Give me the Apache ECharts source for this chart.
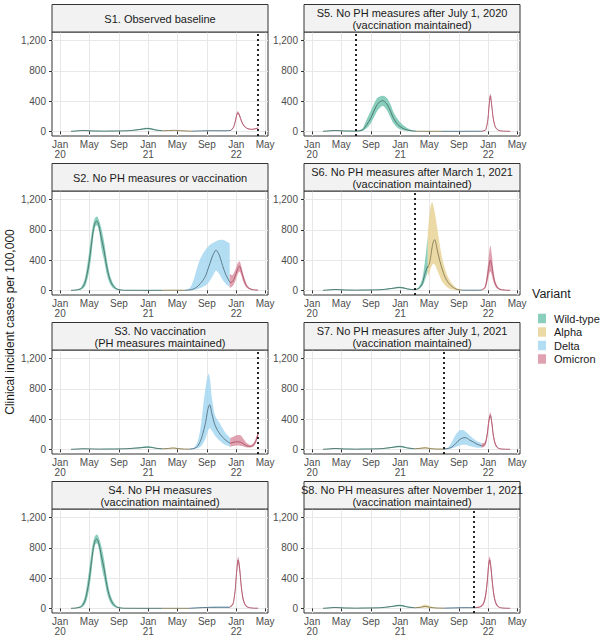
<!DOCTYPE html>
<html>
<head>
<meta charset="utf-8">
<script src="https://cdn.jsdelivr.net/npm/echarts@6.0.0/dist/echarts.min.js"></script>
<style>
html,body{margin:0;padding:0;background:#fff;}
#chart{width:600px;height:644px;}
</style>
</head>
<body>
<div id="chart"></div>
<script>
// ================= DATA =================
const variants = ['Wild-type', 'Alpha', 'Delta', 'Omicron'];
const xTickDates = ['2020-01-01','2020-05-01','2020-09-01','2021-01-01','2021-05-01','2021-09-01','2022-01-01','2022-05-01'];
const xTickLabels = ['Jan\n20','May','Sep','Jan\n21','May','Sep','Jan\n22','May'];
const yTicks = [0, 400, 800, 1200];
const panelTitles = [
  'S1. Observed baseline',
  'S2. No PH measures or vaccination',
  'S3. No vaccination\n(PH measures maintained)',
  'S4. No PH measures\n(vaccination maintained)',
  'S5. No PH measures after July 1, 2020\n(vaccination maintained)',
  'S6. No PH measures after March 1, 2021\n(vaccination maintained)',
  'S7. No PH measures after July 1, 2021\n(vaccination maintained)',
  'S8. No PH measures after November 1, 2021\n(vaccination maintained)'
];
const vlineDates = ['2022-04-02', null, '2022-04-02', null, '2020-07-01', '2021-03-01', '2021-07-01', '2021-11-01'];

// rows: [date, lower, median, upper]
const s1Wild = [['2020-02-15',0,1,2],['2020-03-10',3,6,9],['2020-04-05',8,12,16],['2020-04-25',6,9,12],['2020-05-20',3,5,7],['2020-07-01',2,3,5],['2020-08-15',3,5,7],['2020-10-01',4,7,10],['2020-11-01',10,15,20],['2020-12-01',20,27,34],['2020-12-25',28,38,48],['2021-01-10',26,35,45],['2021-02-01',12,18,24],['2021-03-01',5,8,11]];
const s1Alpha = [['2021-03-01',5,8,11],['2021-03-25',7,11,15],['2021-04-20',10,14,19],['2021-05-15',6,9,12],['2021-06-15',2,4,6],['2021-07-01',2,3,4]];
const s1Delta = [['2021-07-01',2,3,4],['2021-08-10',4,6,9],['2021-09-15',6,9,12],['2021-10-20',5,8,11],['2021-11-20',5,8,11],['2021-12-10',10,14,18]];
const s1Omicron = [['2021-12-10',10,14,18],['2021-12-20',40,50,60],['2021-12-28',110,130,150],['2022-01-03',190,215,240],['2022-01-07',225,245,265],['2022-01-12',210,230,250],['2022-01-19',150,170,190],['2022-01-27',90,105,120],['2022-02-07',50,58,66],['2022-02-20',28,34,40],['2022-03-05',22,27,32],['2022-03-20',28,33,38],['2022-04-02',40,45,50]];

const s2Wild = [['2020-02-15',0,1,2],['2020-03-05',2,4,7],['2020-03-25',8,18,32],['2020-04-10',40,80,130],['2020-04-25',170,270,390],['2020-05-08',420,560,700],['2020-05-18',710,800,890],['2020-05-27',850,905,965],['2020-06-02',860,915,975],['2020-06-10',780,850,925],['2020-06-20',560,690,820],['2020-07-01',400,530,650],['2020-07-12',220,320,420],['2020-07-25',90,150,210],['2020-08-10',25,50,80],['2020-08-28',5,12,20],['2020-09-20',1,2,4],['2020-12-01',0,1,2],['2021-03-01',0,1,2]];
const s2Alpha = [['2021-03-01',0,1,2],['2021-04-15',1,3,6],['2021-06-01',0,1,3]];
const s2Delta = [['2021-06-01',0,1,3],['2021-06-20',1,5,25],['2021-07-05',3,15,110],['2021-07-20',10,40,270],['2021-08-05',30,90,420],['2021-08-25',60,180,530],['2021-09-10',110,320,590],['2021-09-27',200,470,630],['2021-10-09',260,530,650],['2021-10-22',220,470,665],['2021-11-05',140,330,670],['2021-11-20',80,200,650],['2021-12-05',40,110,620]];
const s2Omicron = [['2021-12-05',30,100,220],['2021-12-15',50,110,200],['2021-12-28',120,190,270],['2022-01-08',220,290,360],['2022-01-15',250,320,385],['2022-01-22',200,260,320],['2022-02-01',100,150,200],['2022-02-15',30,50,75],['2022-03-01',10,18,28],['2022-03-15',4,7,11],['2022-04-02',1,3,5]];

const s3Wild = [['2020-02-15',0,1,2],['2020-03-10',2,4,7],['2020-04-05',5,8,12],['2020-05-01',4,6,9],['2020-06-15',2,4,6],['2020-08-15',3,5,7],['2020-10-01',5,8,11],['2020-11-01',10,15,20],['2020-12-01',16,22,30],['2020-12-25',22,30,40],['2021-01-10',20,28,38],['2021-02-01',10,15,20],['2021-03-01',4,7,10]];
const s3Alpha = [['2021-03-01',4,7,10],['2021-03-25',8,12,18],['2021-04-15',12,18,26],['2021-05-05',6,10,15],['2021-06-01',2,4,6],['2021-06-20',1,3,5]];
const s3Delta = [['2021-06-20',1,3,5],['2021-07-05',3,8,15],['2021-07-21',10,30,75],['2021-08-04',30,100,250],['2021-08-25',130,330,780],['2021-09-08',260,560,1000],['2021-09-13',280,590,950],['2021-09-22',250,470,680],['2021-10-05',180,320,450],['2021-10-26',110,200,340],['2021-11-15',60,130,230],['2021-12-07',35,80,150]];
const s3Omicron = [['2021-12-07',35,80,150],['2021-12-22',45,95,170],['2022-01-08',50,100,190],['2022-01-18',48,95,185],['2022-02-01',38,72,135],['2022-02-15',25,45,80],['2022-03-01',25,38,58],['2022-03-12',35,55,78],['2022-03-22',70,100,135],['2022-04-02',170,205,240]];

const s4Wild = [['2020-02-15',0,1,2],['2020-03-05',2,4,7],['2020-03-25',8,18,32],['2020-04-10',40,80,130],['2020-04-25',170,270,390],['2020-05-08',420,560,700],['2020-05-18',710,800,890],['2020-05-27',850,905,965],['2020-06-02',860,915,975],['2020-06-10',780,850,925],['2020-06-20',560,690,820],['2020-07-01',400,530,650],['2020-07-12',220,320,420],['2020-07-25',90,150,210],['2020-08-10',25,50,80],['2020-08-28',5,12,20],['2020-09-20',1,2,4],['2020-12-01',0,1,2],['2021-03-01',0,1,2]];
const s4Alpha = [['2021-03-01',0,1,2],['2021-05-01',0,1,2],['2021-06-20',0,1,2]];
const s4Delta = [['2021-06-20',0,1,2],['2021-07-15',2,5,10],['2021-08-15',5,10,18],['2021-09-15',7,13,22],['2021-10-15',8,14,24],['2021-11-15',8,14,24],['2021-12-05',8,14,22]];
const s4Omicron = [['2021-12-05',8,14,22],['2021-12-18',40,55,70],['2021-12-27',180,220,260],['2022-01-03',430,490,550],['2022-01-09',590,640,680],['2022-01-15',470,530,590],['2022-01-22',240,290,340],['2022-01-30',90,120,150],['2022-02-10',25,35,45],['2022-02-25',6,9,13],['2022-03-15',2,3,5],['2022-04-02',1,2,3]];

const s5Wild = [['2020-02-15',0,1,2],['2020-03-10',3,6,9],['2020-04-05',8,12,16],['2020-04-25',6,9,12],['2020-05-20',3,5,7],['2020-07-01',2,3,5],['2020-07-25',5,14,30],['2020-08-15',45,90,165],['2020-09-01',110,180,275],['2020-09-15',195,280,375],['2020-10-01',285,370,450],['2020-10-20',335,405,470],['2020-11-05',285,365,445],['2020-11-20',190,275,365],['2020-12-05',100,165,245],['2020-12-28',32,72,135],['2021-01-25',7,22,55],['2021-02-20',2,6,14],['2021-03-10',1,2,4]];
const s5Alpha = [['2021-03-10',1,2,4],['2021-05-01',0,1,3],['2021-06-20',0,1,2]];
const s5Delta = [['2021-06-20',0,1,2],['2021-09-01',0,1,2],['2021-12-05',1,2,4]];
const s5Omicron = [['2021-12-05',1,2,4],['2021-12-20',10,15,20],['2021-12-30',110,140,170],['2022-01-05',300,350,400],['2022-01-10',430,470,500],['2022-01-15',320,360,400],['2022-01-22',140,170,200],['2022-02-01',40,50,60],['2022-02-15',8,11,14],['2022-03-05',2,3,5],['2022-04-02',0,1,2]];

const s6Wild = [['2020-02-15',0,1,2],['2020-03-10',3,6,9],['2020-04-05',8,12,16],['2020-04-25',6,9,12],['2020-05-20',3,5,7],['2020-07-01',2,3,5],['2020-08-15',3,5,7],['2020-10-01',4,7,10],['2020-11-01',10,15,20],['2020-12-01',20,27,34],['2020-12-25',28,38,48],['2021-01-10',26,35,45],['2021-02-01',12,18,24],['2021-03-01',6,9,12],['2021-03-15',12,20,32],['2021-04-01',50,80,140],['2021-04-15',150,240,430],['2021-04-25',250,320,720]];
const s6Alpha = [['2021-04-25',180,300,760],['2021-05-02',240,360,1000],['2021-05-08',300,460,1130],['2021-05-13',330,570,1165],['2021-05-18',350,640,1120],['2021-05-24',340,670,1030],['2021-06-03',270,540,830],['2021-06-13',190,400,620],['2021-06-25',110,270,410],['2021-07-08',60,160,260],['2021-07-22',25,90,150],['2021-08-06',10,45,80],['2021-08-25',3,12,25],['2021-09-15',1,3,6]];
const s6Delta = [['2021-09-15',1,3,6],['2021-10-15',1,2,4],['2021-11-15',1,2,4],['2021-12-05',2,4,7]];
const s6Omicron = [['2021-12-05',2,4,7],['2021-12-18',20,35,55],['2021-12-28',100,170,250],['2022-01-04',200,320,470],['2022-01-10',250,400,590],['2022-01-16',200,320,470],['2022-01-23',110,180,260],['2022-02-01',45,75,110],['2022-02-12',15,25,40],['2022-02-25',5,8,14],['2022-03-15',1,3,5],['2022-04-02',0,1,2]];

const s7Wild = [['2020-02-15',0,1,2],['2020-03-10',3,6,9],['2020-04-05',8,12,16],['2020-04-25',6,9,12],['2020-05-20',3,5,7],['2020-07-01',2,3,5],['2020-08-15',3,5,7],['2020-10-01',4,7,10],['2020-11-01',10,15,20],['2020-12-01',20,27,34],['2020-12-25',28,38,48],['2021-01-10',26,35,45],['2021-02-01',12,18,24],['2021-03-01',5,8,11]];
const s7Alpha = [['2021-03-01',5,8,11],['2021-03-25',8,13,20],['2021-04-15',12,20,32],['2021-05-05',6,11,18],['2021-06-01',2,4,7],['2021-07-01',1,3,5]];
const s7Delta = [['2021-07-01',1,3,5],['2021-07-20',5,12,30],['2021-08-05',15,35,110],['2021-08-20',30,80,200],['2021-09-05',50,130,250],['2021-09-17',60,150,255],['2021-09-28',60,155,235],['2021-10-15',45,125,185],['2021-11-01',30,95,140],['2021-11-15',22,70,110],['2021-12-05',20,45,80]];
const s7Omicron = [['2021-12-05',20,45,80],['2021-12-18',40,65,95],['2021-12-28',150,200,250],['2022-01-04',330,380,430],['2022-01-10',420,450,490],['2022-01-16',300,350,400],['2022-01-23',130,170,210],['2022-02-01',40,60,80],['2022-02-12',10,15,22],['2022-02-25',3,5,8],['2022-03-15',1,2,3],['2022-04-02',0,1,2]];

const s8Wild = [['2020-02-15',0,1,2],['2020-03-10',3,6,9],['2020-04-05',8,12,16],['2020-04-25',6,9,12],['2020-05-20',3,5,7],['2020-07-01',2,3,5],['2020-08-15',3,5,7],['2020-10-01',4,7,10],['2020-11-01',10,15,20],['2020-12-01',20,27,34],['2020-12-25',28,38,48],['2021-01-10',26,35,45],['2021-02-01',12,18,24],['2021-03-01',5,8,11]];
const s8Alpha = [['2021-03-01',5,8,11],['2021-03-25',8,14,24],['2021-04-15',12,25,50],['2021-05-05',6,14,28],['2021-06-01',2,5,9],['2021-07-01',1,3,5]];
const s8Delta = [['2021-07-01',1,3,5],['2021-08-15',3,6,10],['2021-09-15',5,9,14],['2021-10-15',5,9,14],['2021-11-10',6,10,15]];
const s8Omicron = [['2021-11-10',6,10,15],['2021-11-25',10,16,24],['2021-12-10',35,50,70],['2021-12-20',110,150,200],['2021-12-28',290,350,420],['2022-01-03',510,580,650],['2022-01-07',590,640,685],['2022-01-12',480,550,610],['2022-01-18',290,350,410],['2022-01-25',130,170,210],['2022-02-03',40,60,80],['2022-02-15',10,15,22],['2022-03-01',3,5,8],['2022-03-20',1,2,3],['2022-04-02',0,1,2]];

const panelData = [
  [s1Wild, s1Alpha, s1Delta, s1Omicron],
  [s2Wild, s2Alpha, s2Delta, s2Omicron],
  [s3Wild, s3Alpha, s3Delta, s3Omicron],
  [s4Wild, s4Alpha, s4Delta, s4Omicron],
  [s5Wild, s5Alpha, s5Delta, s5Omicron],
  [s6Wild, s6Alpha, s6Delta, s6Omicron],
  [s7Wild, s7Alpha, s7Delta, s7Omicron],
  [s8Wild, s8Alpha, s8Delta, s8Omicron]
];

// ================= STYLE / LAYOUT =================
const FONT = '"Liberation Sans", Arial, Helvetica, sans-serif';
const bandFill = ['rgba(118,198,178,0.85)', 'rgba(232,212,150,0.85)', 'rgba(160,212,240,0.8)', 'rgba(218,146,162,0.85)'];
const lineCol = ['#46716a', '#857a55', '#52707f', '#ad536a'];
const colX = [52, 304];
const panelW = 216;
const rowTop = [32, 191, 350, 509];
const panelH = 104;
const stripH = 27.5;
const yMin = -61, yMax = 1312;

function ts(s) { const p = s.split('-').map(Number); return new Date(p[0], p[1] - 1, p[2]).getTime(); }
const xTickTs = xTickDates.map(ts);
const xMin = ts('2019-11-28'), xMax = ts('2022-05-13');

// monotone cubic path through pixel points (rendering only; no extra data points)
function monoPath(pts, first) {
  const n = pts.length;
  let d = (first ? 'M' : 'L') + pts[0][0].toFixed(2) + ',' + pts[0][1].toFixed(2);
  if (n < 2) return d;
  const dx = [], ms = [];
  for (let i = 0; i < n - 1; i++) {
    dx.push(pts[i + 1][0] - pts[i][0]);
    ms.push((pts[i + 1][1] - pts[i][1]) / dx[i]);
  }
  const t = [ms[0]];
  for (let i = 1; i < n - 1; i++) {
    if (ms[i - 1] * ms[i] <= 0) t.push(0);
    else {
      const w1 = 2 * dx[i] + dx[i - 1], w2 = dx[i] + 2 * dx[i - 1];
      t.push((w1 + w2) / (w1 / ms[i - 1] + w2 / ms[i]));
    }
  }
  t.push(ms[n - 2]);
  for (let i = 0; i < n - 1; i++) {
    const h = dx[i] / 3;
    d += 'C' + (pts[i][0] + h).toFixed(2) + ',' + (pts[i][1] + t[i] * h).toFixed(2) + ' ' +
      (pts[i + 1][0] - h).toFixed(2) + ',' + (pts[i + 1][1] - t[i + 1] * h).toFixed(2) + ' ' +
      pts[i + 1][0].toFixed(2) + ',' + pts[i + 1][1].toFixed(2);
  }
  return d;
}

const grids = [], xAxes = [], yAxes = [], series = [], graphics = [];

panelData.forEach(function (vs, p) {
  const col = p < 4 ? 0 : 1, row = p % 4;
  const left = colX[col], top = rowTop[row];
  grids.push({ left: left, top: top, width: panelW, height: panelH, show: true,
    borderColor: '#333', borderWidth: 1, backgroundColor: 'transparent', containLabel: false, outerBoundsMode: 'none' });
  xAxes.push({
    type: 'value', gridIndex: p, min: xMin, max: xMax, scale: true,
    axisLine: { show: false },
    axisTick: { show: true, customValues: xTickTs, length: 3, lineStyle: { color: '#333', width: 1 } },
    axisLabel: { customValues: xTickTs, fontSize: 10, color: '#4d4d4d', fontFamily: FONT, margin: 4, lineHeight: 9.5,
      formatter: function (v) { const i = xTickTs.indexOf(Number(v)); return i >= 0 ? xTickLabels[i] : ''; } },
    splitLine: { show: true, lineStyle: { color: '#e8e8e8', width: 1 } }
  });
  yAxes.push({
    type: 'value', gridIndex: p, min: yMin, max: yMax,
    axisLine: { show: false },
    axisTick: { show: true, customValues: yTicks, length: 3, lineStyle: { color: '#333', width: 1 } },
    axisLabel: { customValues: yTicks, fontSize: 10, color: '#4d4d4d', fontFamily: FONT, margin: 6,
      formatter: function (v) { return Number(v).toLocaleString('en-US'); } },
    splitLine: { show: true, lineStyle: { color: '#e8e8e8', width: 1 } }
  });
  // ribbons
  vs.forEach(function (rows, v) {
    series.push({
      type: 'custom', name: variants[v], xAxisIndex: p, yAxisIndex: p, silent: true, z: 2,
      itemStyle: { color: bandFill[v] },
      encode: { x: 0, y: [1, 2] },
      data: rows.map(function (r) { return [ts(r[0]), r[1], r[3]]; }),
      renderItem: function (params, api) {
        if (params.dataIndex !== 0) return null;
        const up = rows.map(function (r) { return api.coord([ts(r[0]), r[3]]); });
        const lo = rows.map(function (r) { return api.coord([ts(r[0]), r[1]]); }).reverse();
        return { type: 'path', shape: { pathData: monoPath(up, true) + monoPath(lo, false) + 'Z' },
          style: { fill: bandFill[v], stroke: null } };
      }
    });
  });
  // medians
  vs.forEach(function (rows, v) {
    series.push({
      type: 'custom', xAxisIndex: p, yAxisIndex: p, silent: true, z: 3,
      encode: { x: 0, y: 1 },
      data: rows.map(function (r) { return [ts(r[0]), r[2]]; }),
      renderItem: function (params, api) {
        if (params.dataIndex !== 0) return null;
        const pts = rows.map(function (r) { return api.coord([ts(r[0]), r[2]]); });
        return { type: 'path', shape: { pathData: monoPath(pts, true) },
          style: { fill: null, stroke: lineCol[v], lineWidth: 0.9 } };
      }
    });
  });
  if (vlineDates[p]) {
    series.push({ type: 'line', xAxisIndex: p, yAxisIndex: p, symbol: 'none', silent: true, z: 4,
      lineStyle: { opacity: 0 }, data: [[ts(vlineDates[p]), 0]],
      markLine: { silent: true, symbol: ['none', 'none'], label: { show: false }, animation: false,
        lineStyle: { color: '#000', type: [2, 3], width: 1.7, opacity: 1 },
        emphasis: { disabled: true },
        data: [{ xAxis: ts(vlineDates[p]) }] } });
  }
  graphics.push({ type: 'rect', shape: { x: left, y: top - stripH, width: panelW, height: stripH },
    style: { fill: '#f2f2f2', stroke: '#333', lineWidth: 1 }, z: 10 });
  graphics.push({ type: 'text', x: left + panelW / 2, y: top - stripH / 2 + 0.5,
    style: { text: panelTitles[p], fill: '#1a1a1a', fontSize: 11, fontFamily: FONT, align: 'center', verticalAlign: 'middle', lineHeight: 11.5 }, z: 11 });
});

graphics.push({ type: 'text', x: 10, y: 322, rotation: Math.PI / 2,
  style: { text: 'Clinical incident cases per 100,000', fill: '#1a1a1a', fontSize: 12, fontFamily: FONT, align: 'center', verticalAlign: 'middle' } });
graphics.push({ type: 'text', x: 532, y: 294,
  style: { text: 'Variant', fill: '#1a1a1a', fontSize: 12.5, fontFamily: FONT, align: 'left', verticalAlign: 'middle' } });

const option = {
  animation: false,
  backgroundColor: '#fff',
  grid: grids,
  xAxis: xAxes,
  yAxis: yAxes,
  legend: {
    data: variants, orient: 'vertical', left: 533, top: 308, icon: 'rect', itemWidth: 8, itemHeight: 9.5, itemGap: 2.5,
    selectedMode: false, itemStyle: { borderWidth: 0 },
    textStyle: { fontSize: 11, color: '#1a1a1a', fontFamily: FONT, lineHeight: 10, padding: [0, 0, 0, 3] }
  },
  graphic: graphics,
  series: series
};

const chart = echarts.init(document.getElementById('chart'), null, { renderer: 'svg', width: 600, height: 644 });
chart.setOption(option);
</script>
</body>
</html>
